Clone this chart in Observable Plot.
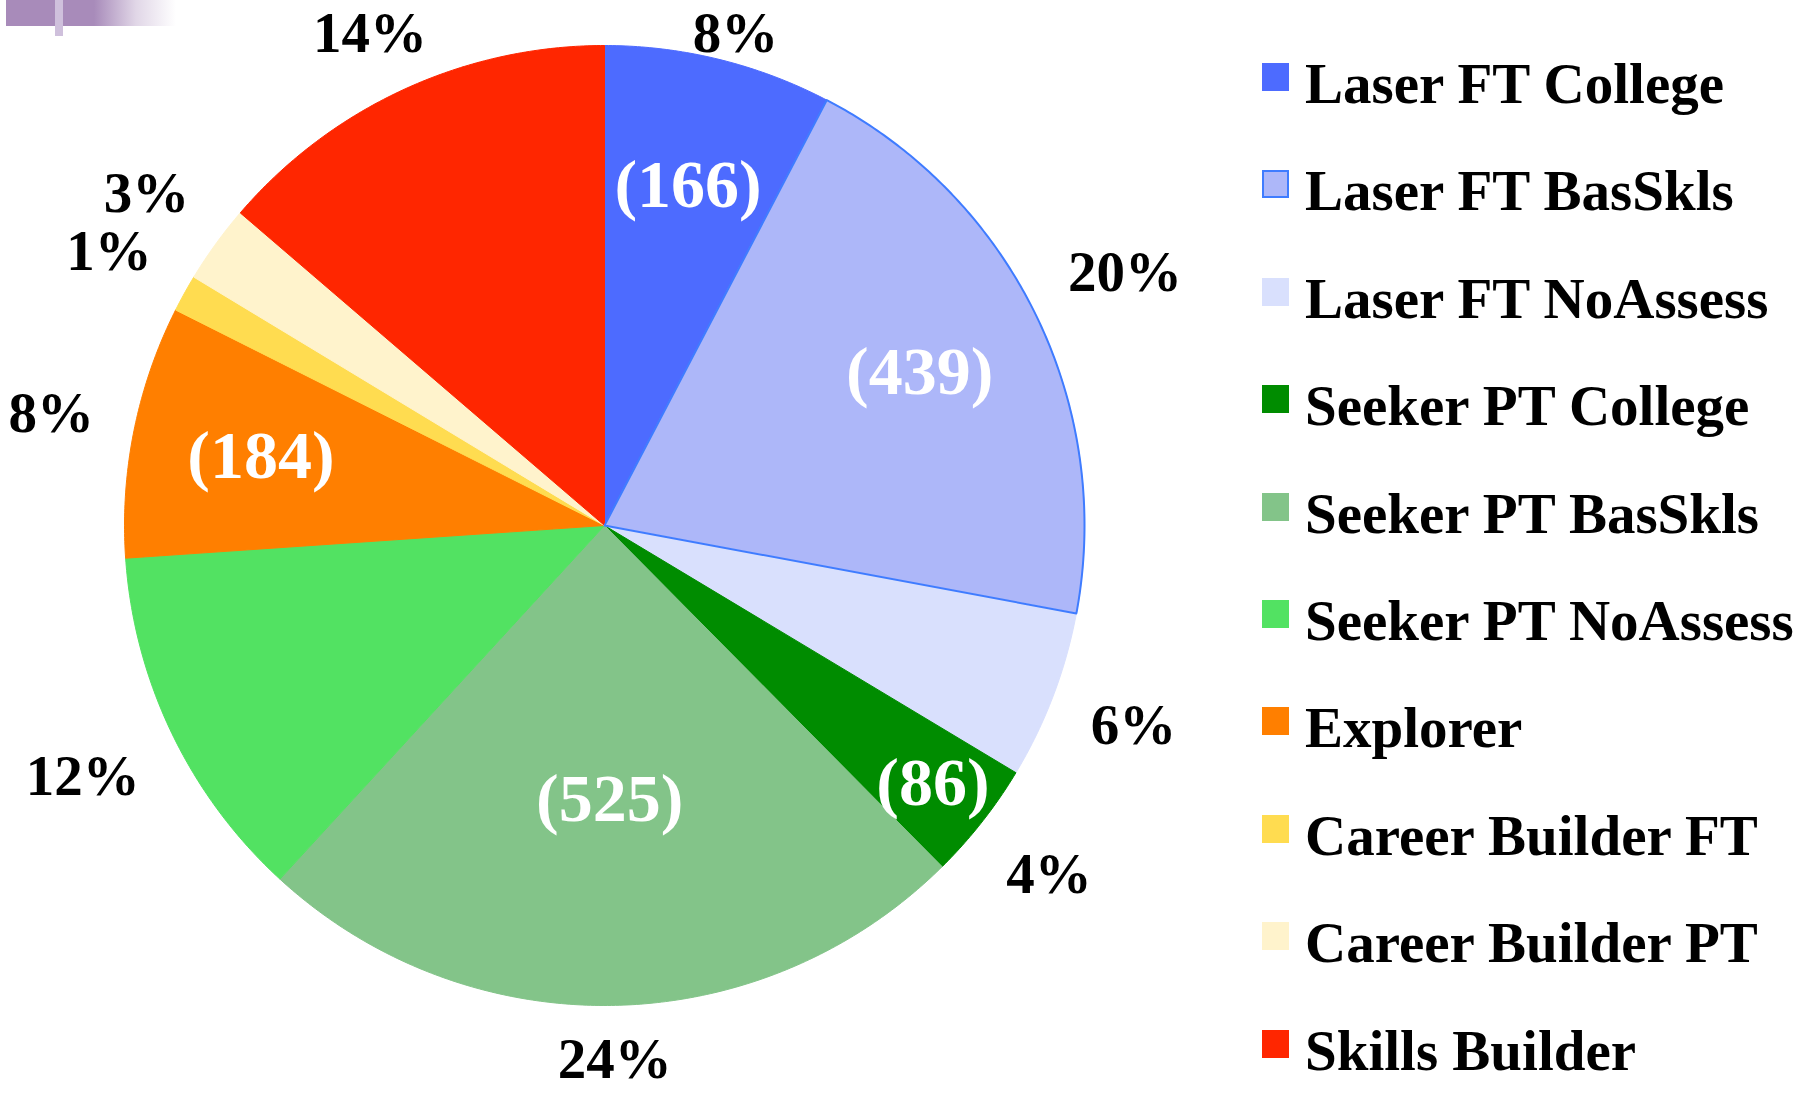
<!DOCTYPE html>
<html>
<head>
<meta charset="utf-8">
<script src="https://cdn.jsdelivr.net/npm/d3@7"></script>
<script src="https://cdn.jsdelivr.net/npm/@observablehq/plot@0.6"></script>
<style>
  body { margin: 0; background: #fff; }
  #wrap { position: relative; width: 1811px; height: 1093px; overflow: hidden;
          font-family: "Liberation Serif", "Times New Roman", serif; font-weight: bold; }
  #chart { position: absolute; left: 0; top: 0; }
  .deco1 { position: absolute; left: 6px; top: 0; width: 170px; height: 26px;
           background: linear-gradient(to right, #a88bba 0px, #a88bba 88px, rgba(168,139,186,0.35) 130px, rgba(255,255,255,0) 170px); }
  .deco2 { position: absolute; left: 55px; top: 0; width: 8px; height: 36px; background: #cfc0dc; }
  .legend-row { position: absolute; left: 1262px; display: flex; align-items: flex-start; white-space: nowrap; }
  .sw { width: 27px; height: 28px; margin-top: 8px; box-sizing: border-box; }
  .lt { font-size: 57px; line-height: 57px; margin-left: 16px; color: #000; }
</style>
</head>
<body>
<div id="wrap">
  <div id="chart"></div>
</div>
<script>
// ---- data ----
const categories = ["Laser FT College", "Laser FT BasSkls", "Laser FT NoAssess",
  "Seeker PT College", "Seeker PT BasSkls", "Seeker PT NoAssess",
  "Explorer", "Career Builder FT", "Career Builder PT", "Skills Builder"];
const counts = [166, 439, 123, 86, 525, 262, 184, 27, 57, 297];
const colors = ["#4d6bff", "#adb7f9", "#d9e0fd", "#008c00", "#83c489",
  "#52e262", "#ff7f00", "#ffdc50", "#fff3cc", "#ff2600"];
const showCount = [true, true, false, true, true, false, true, false, false, false];
const outlined = [false, true, false, false, false, false, false, false, false, false];
const outlineColor = "#3f7cff";

// ---- geometry (layout) ----
const W = 1250, H = 1093, R = 480, CX = 604, CY = 525;
const total = d3.sum(counts);
const arcs = d3.pie().sort(null).value(d => d)(counts);

const slicePts = [];
arcs.forEach((p, i) => {
  const base = {i, name: categories[i], color: colors[i]};
  slicePts.push({...base, x: 0, y: 0});
  const n = Math.max(2, Math.ceil((p.endAngle - p.startAngle) / (Math.PI / 360)));
  for (let k = 0; k <= n; k++) {
    const a = p.startAngle + (p.endAngle - p.startAngle) * k / n;
    slicePts.push({...base, x: Math.sin(a), y: Math.cos(a)});
  }
  slicePts.push({...base, x: 0, y: 0});
});

// percent labels outside
const pctFont = 57;
const pctLabels = arcs.map((p, i) => {
  const mid = (p.startAngle + p.endAngle) / 2;
  const txt = Math.round(counts[i] / total * 100) + "%";
  const w = (0.5 * (txt.length - 1) + 1) * pctFont;
  const s = Math.sin(mid), c = Math.cos(mid);
  const rl = 518 + (w / 2) * Math.abs(s) + 22 * Math.abs(c);
  let px = CX + rl * s, py = CY - rl * c;
  py = Math.min(Math.max(py, 33), H - 34);
  return {x: (px - CX) / R, y: (CY - py) / R, text: txt};
});

// count labels inside
const cntLabels = arcs.map((p, i) => {
  const mid = (p.startAngle + p.endAngle) / 2;
  const frac = counts[i] / total;
  const f = frac < 0.06 ? 0.87 : frac > 0.22 ? 0.57 : 0.73;
  return {x: f * Math.sin(mid), y: f * Math.cos(mid), text: "(" + counts[i] + ")", show: showCount[i]};
}).filter(d => d.show);

const chart = Plot.plot({
  width: W, height: H,
  marginTop: 0, marginRight: 0, marginBottom: 0, marginLeft: 0,
  x: {domain: [-1, 1], range: [CX - R, CX + R], axis: null},
  y: {domain: [-1, 1], range: [CY + R, CY - R], axis: null},
  color: {type: "identity"},
  style: {fontFamily: "'Liberation Serif', 'Times New Roman', serif", background: "#fff"},
  marks: [
    Plot.line(slicePts, {x: "x", y: "y", z: "i", fill: "color", stroke: "color", strokeWidth: 1, curve: "linear"}),
    Plot.line(slicePts.filter(d => outlined[d.i]), {x: "x", y: "y", z: "i", stroke: outlineColor, strokeWidth: 2, fill: "none", curve: "linear"}),
    Plot.text(pctLabels, {x: "x", y: "y", text: "text", fontSize: pctFont, fontWeight: "bold", fill: "#000", textAnchor: "middle", lineAnchor: "middle"}),
    Plot.text(cntLabels, {x: "x", y: "y", text: "text", fontSize: 68, fontWeight: "bold", fill: "#fff", textAnchor: "middle", lineAnchor: "middle"})
  ]
});
document.getElementById("chart").appendChild(chart);

// ---- decoration ----
const wrap = document.getElementById("wrap");
const d1 = document.createElement("div"); d1.className = "deco1"; wrap.appendChild(d1);
const d2 = document.createElement("div"); d2.className = "deco2"; wrap.appendChild(d2);

// ---- legend ----
categories.forEach((name, i) => {
  const row = document.createElement("div");
  row.className = "legend-row";
  row.style.top = (55 + i * 107.4) + "px";
  const sw = document.createElement("div");
  sw.className = "sw";
  sw.style.background = colors[i];
  if (outlined[i]) sw.style.border = "2px solid " + outlineColor;
  const t = document.createElement("div");
  t.className = "lt";
  t.textContent = name;
  row.appendChild(sw); row.appendChild(t);
  wrap.appendChild(row);
});
</script>
</body>
</html>
